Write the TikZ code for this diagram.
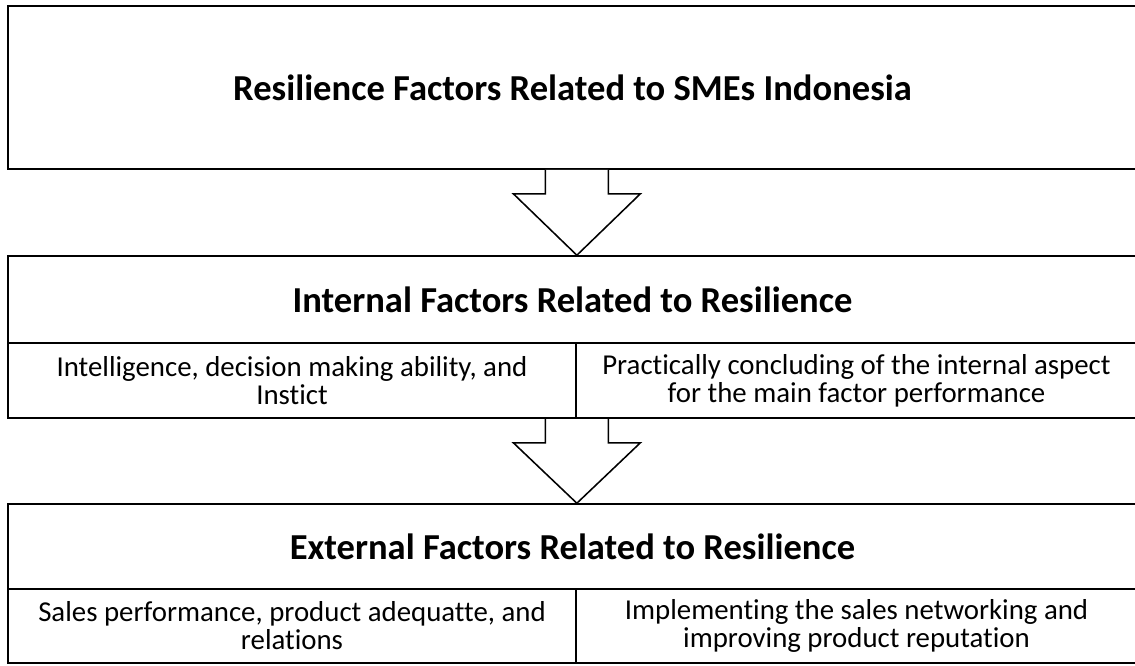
\documentclass[tikz,border=0pt]{standalone}
\usepackage{fontspec}
\setmainfont{Carlito}[Ligatures={NoCommon,NoContextual}]
\usetikzlibrary{calc}

\newcommand{\blockarrow}[3]{%
  \path[#1] ($(#2)+(-31.5,0)$) -- ++(0,24) -- ++(-32,0) -- (#3)
    -- ($(#2)+(63.5,24)$) -- ++(-32,0) -- ($(#2)+(31.5,0)$);}

\begin{document}
\begin{tikzpicture}[x=0.025cm, y=-0.025cm,
    cell/.style={draw, line width=1.1pt, rectangle, inner sep=0pt, align=center,
      font=\fontsize{20.5}{20}\selectfont},
    headcell/.style={cell, minimum width=28.225cm, minimum height=2.15cm,
      font=\fontsize{26}{30}\selectfont\bfseries},
    subcell/.style={cell, minimum height=1.875cm}]

    \useasboundingbox (0,0) rectangle (1135,665);

    % Top box
    \node[headcell, minimum height=4.075cm] (top) at (572.5,87.5)
      {Resilience Factors Related to SMEs Indonesia};

    % Internal factors
    \node[headcell, minimum height=2.175cm] (intl) at (572.5,299.5)
      {Internal Factors Related to Resilience};
    \node[subcell, minimum width=14.2cm] (inl) at (292,380.5)
      {Intelligence, decision making ability, and\\Instict};
    \node[subcell, minimum width=14.025cm] (inr) at (856.5,380.5)
      {Practically concluding of the internal aspect\\for the main factor performance};

    % External factors
    \node[headcell, minimum height=2.125cm] (extl) at (572.5,546.5)
      {External Factors Related to Resilience};
    \node[subcell, minimum width=14.2cm, minimum height=1.85cm] (exl) at (292,626)
      {Sales performance, product adequatte, and\\relations};
    \node[subcell, minimum width=14.025cm, minimum height=1.85cm] (exr) at (856.5,626)
      {Implementing the sales networking and\\improving product reputation};

    % Arrows
    \coordinate (a1) at (top.south -| inl.east);
    \coordinate (b1) at (intl.north -| inl.east);
    \blockarrow{draw, line width=1.1pt, fill=white}{a1}{b1}
    \coordinate (a2) at (inl.south east);
    \coordinate (b2) at (extl.north -| inl.east);
    \blockarrow{draw, line width=1.1pt}{a2}{b2}
\end{tikzpicture}
\end{document}
